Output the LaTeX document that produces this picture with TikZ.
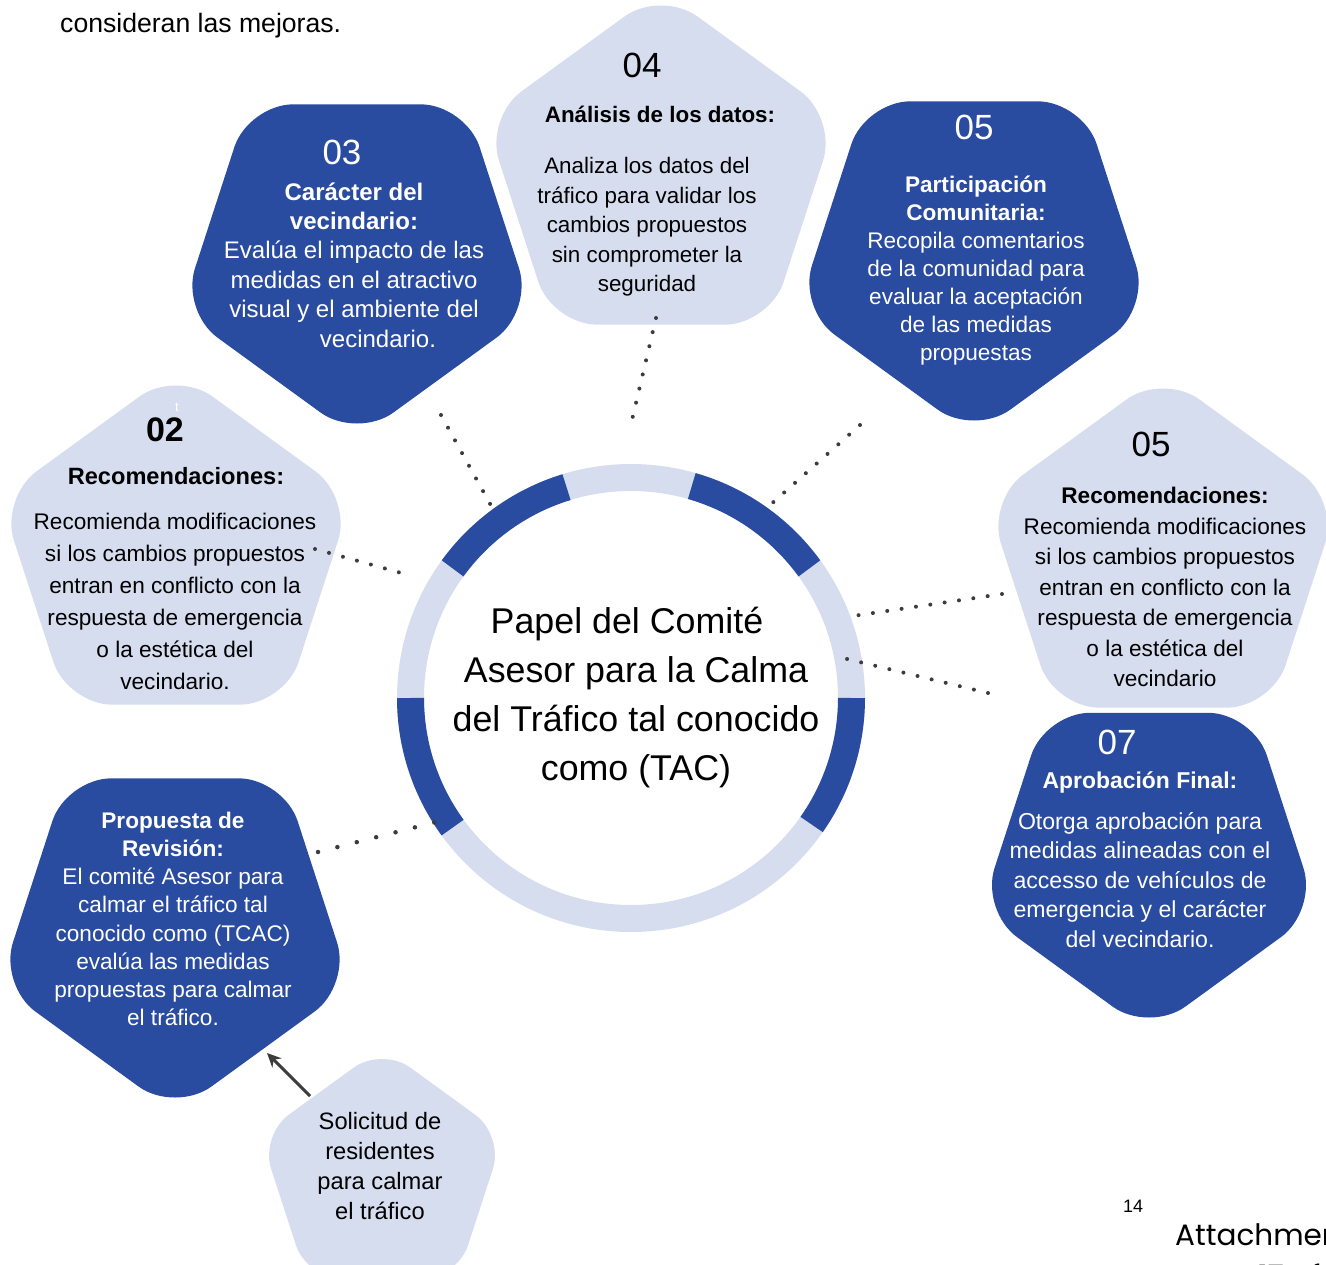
\documentclass[tikz,border=0pt]{standalone}
\usepackage{fontspec}
\setmainfont{Liberation Sans}
\newfontfamily\attfont{Poppins}
\usetikzlibrary{shapes.geometric,arrows.meta,calc}
\definecolor{tacblue}{HTML}{2A4CA0}
\definecolor{taclight}{HTML}{D6DDEF}
\definecolor{dotgray}{HTML}{3C3C3C}
\newcommand{\setfs}[2]{\fontsize{#1}{#2}\selectfont}
\tikzset{
  penta/.style={regular polygon, regular polygon sides=5, inner sep=0pt, minimum size=370pt, rounded corners=45pt},
  pentadark/.style={penta, fill=tacblue, shape border rotate=180},
  pentalight/.style={penta, fill=taclight},
  num/.style={inner sep=0pt, font=\setfs{35}{40}},
  txt/.style={inner sep=0pt, align=center},
  dots/.style={dotgray, line width=4pt, line cap=round, dash pattern=on 0pt off 14.5pt},
}

\begin{document}
\begin{tikzpicture}[x=1pt, y=-1pt]
  \useasboundingbox (0,0) rectangle (1326,1265);
  \coordinate (ring) at (631,698);
  \draw[taclight, line width=27pt] (ring) circle[radius=220.5];
  \foreach \a/\b in {36/74, 107/144, 180/216, 325/360}
    \draw[tacblue, line width=27pt] ([shift={(-\a:220.5)}]ring) arc[start angle=-\a, end angle=-\b, radius=220.5];

  \node[pentalight] (datos) at (661,175) {};
  \node[pentadark] (caracter) at (357,254) {};
  \node[pentadark] (participacion) at (974,251) {};
  \node[pentalight] (recom) at (176,555) {};
  \node[pentalight] (recomb) at (1163,558) {};
  \node[pentadark, minimum size=354pt] (aprobacion) at (1149,856) {};
  \node[pentadark] (propuesta) at (175,928) {};
  \node[pentalight, minimum size=256pt, rounded corners=35pt] (solicitud) at (382,1175) {};

  \node[txt, font=\setfs{35.8}{49}] (tac) at (636,698) {Papel del Comité\hspace*{18pt}\\Asesor para la Calma\\del Tráfico tal conocido\\como (TAC)};

  \node[num] (n04) at (642,65) {04};
  \node[txt, font=\bfseries\setfs{22.4}{30}] (t04) at (660,114) {Análisis de los datos:};
  \node[txt, font=\setfs{22.4}{29.5}] (b04) at (647,227) {Analiza los datos del\\tráfico para validar los\\cambios propuestos\\sin comprometer la\\seguridad};

  \node[num, white] (n03) at (342,152) {03};
  \node[txt, white, font=\setfs{24}{29.4}] (b03) at (354,265) {\textbf{Carácter del}\\\textbf{vecindario:}\\Evalúa el impacto de las\\medidas en el atractivo\\visual y el ambiente del\\\hspace*{48pt}vecindario.};

  \node[num, white] (n05) at (974,127) {05};
  \node[txt, white, font=\setfs{22.6}{28}] (b05) at (976,271) {\textbf{Participación}\\\textbf{Comunitaria:}\\Recopila comentarios\\de la comunidad para\\evaluar la aceptación\\de las medidas\\propuestas};

  \node[white, inner sep=0pt, font=\setfs{13}{15}] (tick) at (177,407) {t};
  \node[inner sep=0pt, font=\bfseries\setfs{34}{40}] (n02) at (165,430) {02};
  \node[txt, font=\bfseries\setfs{23.6}{30}] (t02) at (176,476) {Recomendaciones:};
  \node[txt, font=\setfs{22.6}{32}] (b02) at (175,601) {Recomienda modificaciones\\si los cambios propuestos\\entran en conflicto con la\\respuesta de emergencia\\o la estética del\\vecindario.};

  \node[num] (n05b) at (1151,444) {05};
  \node[txt, font=\setfs{22.6}{30.5}] (b05b) at (1165,587) {\textbf{Recomendaciones:}\\Recomienda modificaciones\\si los cambios propuestos\\entran en conflicto con la\\respuesta de emergencia\\o la estética del\\vecindario};

  \node[num, white] (n07) at (1117,742) {07};
  \node[txt, white, font=\bfseries\setfs{22.9}{30}] (t07) at (1140,782) {Aprobación Final:};
  \node[txt, white, font=\setfs{23.1}{29.5}] (b07) at (1140,880) {Otorga aprobación para\\medidas alineadas con el\\accesso de vehículos de\\emergencia y el carácter\\del vecindario.};

  \node[txt, white, font=\setfs{22.6}{28.2}] (b08) at (173,919) {\textbf{Propuesta de}\\\textbf{Revisión:}\\El comité Asesor para\\calmar el tráfico tal\\conocido como (TCAC)\\evalúa las medidas\\propuestas para calmar\\el tráfico.};

  \node[txt, font=\setfs{23.7}{30}] (b01) at (380,1166) {Solicitud de\\residentes\\para calmar\\el tráfico};

  \node[anchor=west, inner sep=0pt, font=\setfs{26.6}{32}] (intro) at (60,26) {consideran las mejoras.};
  \node[inner sep=0pt, font=\setfs{18}{20}] (pagenum) at (1133,1206) {14};
  \node[anchor=north west, inner sep=0pt, align=left, font=\attfont\setfs{29.5}{41}] (attach) at (1175,1223) {Attachment\\Page 17 of};

  \coordinate (dot04a) at (656,318);  \coordinate (dot04b) at (632,420);
  \coordinate (dot03a) at (441,415);  \coordinate (dot03b) at (494,511);
  \coordinate (dot05a) at (860,425);  \coordinate (dot05b) at (769,506);
  \coordinate (dot02a) at (315,549);  \coordinate (dot02b) at (405,574);
  \coordinate (dot06a) at (1002,594); \coordinate (dot06b) at (853,616);
  \coordinate (dot07a) at (988,693);  \coordinate (dot07b) at (843,658);
  \coordinate (dot08a) at (318,852);  \coordinate (dot08b) at (440,821);
  \draw[dots] (dot04a) -- (dot04b);
  \draw[dots] (dot03a) -- (dot03b);
  \draw[dots] (dot05a) -- (dot05b);
  \draw[dots] (dot02a) -- (dot02b);
  \draw[dots] (dot06a) -- (dot06b);
  \draw[dots] (dot07a) -- (dot07b);
  \draw[dots, line width=4.5pt, dash pattern=on 0pt off 20pt] (dot08a) -- (dot08b);

  \coordinate (askfrom) at (310,1096);
  \coordinate (askto) at (267,1053);
  \draw[dotgray, line width=3pt, -{Stealth[length=14pt, width=13pt]}] (askfrom) -- (askto);
\end{tikzpicture}
\end{document}
